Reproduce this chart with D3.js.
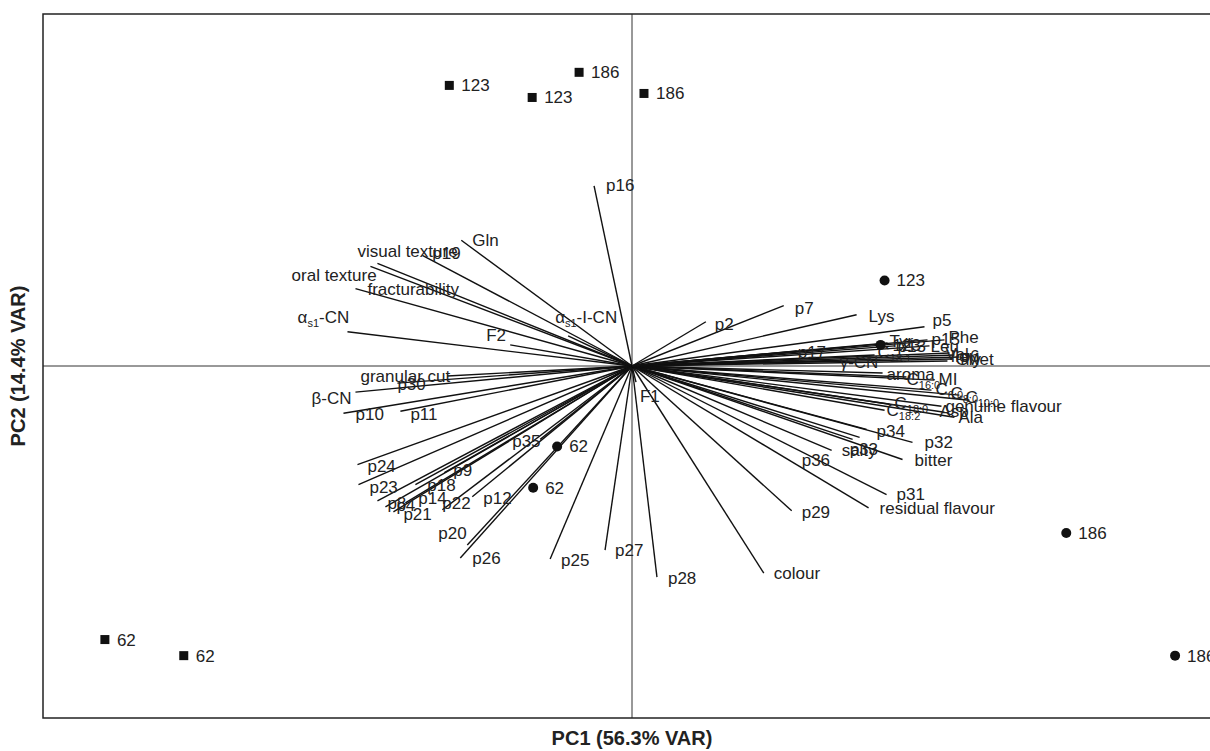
<!DOCTYPE html>
<html>
<head>
<meta charset="utf-8">
<script src="https://cdn.jsdelivr.net/npm/d3@7"></script>
<style>
  body { margin: 0; background: #fff; }
  text { font-family: "Liberation Sans", Arial, sans-serif; }
</style>
</head>
<body>
<div id="plot"></div>
<script>
// variable loadings (arrow tips) and their label anchors, PC1 / PC2 units
// {..} marks a subscript
let varNames = ["p16","Gln","p19","visual texture","oral texture","fracturability","α{s1}-CN","α{s1}-I-CN","F2",
  "granular cut","p30","β-CN","p10","p11","p24","p23","p8","p4","p21","p14","p18","p9","p22","p12","p35",
  "p20","p26","p25","p27","F1","p28","colour","p29","residual flavour","p31","p36","salty","p33","bitter",
  "p32","p34","Ala","Asp","genuine flavour","C{18:2}","C{18:0}","C{10:0}","C{8:0}","C{6:0}","MI","C{16:0}",
  "aroma","γ-CN","C{18:1}","p17","Ile","Val","p6","Met","Gly","Leu","Phe","p15","p13","Tyr","p5","Lys","p7","p2"];
let varX = [-0.38,-1.71,-2.10,-2.55,-2.62,-2.77,-2.85,-0.64,-1.22,
  -1.85,-2.35,-2.77,-2.89,-2.32,-2.75,-2.74,-2.55,-2.47,-2.39,-2.27,-2.17,-1.88,-1.90,-1.60,-0.92,
  -1.65,-1.72,-0.82,-0.27,0.04,0.25,1.32,1.60,2.37,2.55,2.00,2.21,2.28,2.71,
  2.81,2.35,3.23,3.13,3.10,2.53,2.58,3.38,3.28,3.00,3.03,2.75,
  2.51,2.03,2.43,1.65,3.23,3.18,3.28,3.20,3.16,2.98,3.13,2.96,2.63,2.56,2.93,2.25,1.52,0.74];
let varY = [1.79,1.25,1.10,1.02,0.99,0.77,0.34,0.30,0.21,
  -0.10,-0.17,-0.26,-0.47,-0.45,-0.98,-1.18,-1.34,-1.40,-1.45,-1.36,-1.18,-1.06,-1.43,-1.30,-0.73,
  -1.78,-1.91,-1.92,-1.83,-0.16,-2.10,-2.06,-1.44,-1.41,-1.28,-0.84,-0.73,-0.71,-0.93,
  -0.76,-0.63,-0.51,-0.46,-0.40,-0.44,-0.38,-0.34,-0.29,-0.24,-0.14,-0.11,
  -0.07,0.05,0.11,0.15,0.11,0.13,0.09,0.07,0.05,0.20,0.26,0.26,0.20,0.23,0.39,0.51,0.60,0.44];
let labX = [-0.26,-1.60,-2.00,-2.75,-3.41,-2.65,-3.35,-0.77,-1.46,
  -2.72,-2.35,-3.21,-2.77,-2.22,-2.65,-2.63,-2.45,-2.36,-2.29,-2.14,-2.05,-1.79,-1.90,-1.49,-1.20,
  -1.94,-1.60,-0.71,-0.17,0.08,0.36,1.42,1.70,2.48,2.65,1.70,2.10,2.18,2.83,
  2.93,2.45,3.27,3.08,3.14,2.55,2.63,3.34,3.19,3.04,3.07,2.75,
  2.55,2.08,2.46,1.66,3.19,3.14,3.29,3.34,3.24,2.99,3.17,3.00,2.66,2.58,3.01,2.37,1.63,0.83];
let labY = [1.80,1.25,1.12,1.14,0.90,0.77,0.49,0.49,0.31,
  -0.10,-0.18,-0.32,-0.48,-0.48,-0.99,-1.20,-1.36,-1.38,-1.47,-1.31,-1.18,-1.03,-1.36,-1.31,-0.75,
  -1.66,-1.91,-1.93,-1.83,-0.30,-2.11,-2.06,-1.45,-1.41,-1.27,-0.94,-0.84,-0.83,-0.94,
  -0.76,-0.65,-0.51,-0.45,-0.40,-0.44,-0.37,-0.31,-0.27,-0.23,-0.13,-0.13,
  -0.08,0.04,0.14,0.14,0.10,0.12,0.10,0.07,0.07,0.20,0.29,0.27,0.20,0.25,0.46,0.50,0.58,0.42];

// sample scores
let obsLabels = ["123","123","186","186","62","62","123","123","62","62","186","186"];
let obsShape  = ["square","square","square","square","square","square","circle","circle","circle","circle","circle","circle"];
let obsX = [-1.83,-1.00,-0.53,0.12,-5.28,-4.49, 2.53,2.49,-0.75,-0.99,4.35,5.44];
let obsY = [ 2.79, 2.67, 2.92,2.71,-2.72,-2.88, 0.85,0.21,-0.80,-1.21,-1.66,-2.88];

let xTitle = "PC1 (56.3% VAR)";
let yTitle = "PC2 (14.4% VAR)";

let svgWidth = 1210, svgHeight = 751;
let margin = { top: 14, left: 43, bottom: 33 };

let x = d3.scaleLinear().domain([-5.9, 5.9]).range([margin.left, 1221]);
let y = d3.scaleLinear().domain([-3.5, 3.5]).range([svgHeight - margin.bottom, margin.top]);

let svg = d3.select('#plot').append('svg')
  .attr('width', svgWidth).attr('height', svgHeight);

// zero lines
svg.append('line')
  .attr('x1', x(0)).attr('x2', x(0)).attr('y1', y(3.5)).attr('y2', y(-3.5))
  .attr('stroke', '#333').attr('stroke-width', 1);
svg.append('line')
  .attr('x1', x(-5.9)).attr('x2', x(5.9)).attr('y1', y(0)).attr('y2', y(0))
  .attr('stroke', '#333').attr('stroke-width', 1);

// loadings
let vars = varNames.map((n, i) => ({ name: n, x: varX[i], y: varY[i], lx: labX[i], ly: labY[i] }));

svg.append('g').selectAll('line').data(vars).enter()
  .append('line')
  .attr('x1', x(0)).attr('y1', y(0))
  .attr('x2', d => x(d.x)).attr('y2', d => y(d.y))
  .attr('stroke', '#111').attr('stroke-width', 1.4);

function addLabel(sel, name) {
  // split "α{s1}-CN" into normal + subscript pieces
  let parts = name.split(/(\{[^}]*\})/).filter(p => p.length);
  let sub = false;
  parts.forEach(p => {
    if (p[0] === '{') {
      sel.append('tspan').attr('font-size', 11).attr('dy', 4).text(p.slice(1, -1));
      sub = true;
    } else {
      let t = sel.append('tspan').text(p);
      if (sub) { t.attr('dy', -4); sub = false; }
    }
  });
}

svg.append('g').selectAll('text').data(vars).enter()
  .append('text')
  .attr('x', d => x(d.lx)).attr('y', d => y(d.ly))
  .attr('dy', '0.35em')
  .attr('font-size', 17).attr('fill', '#222')
  .each(function(d) { addLabel(d3.select(this), d.name); });

// scores
let obs = obsLabels.map((l, i) => ({ label: l, shape: obsShape[i], x: obsX[i], y: obsY[i] }));

let pts = svg.append('g');
pts.selectAll('rect').data(obs.filter(d => d.shape === 'square')).enter()
  .append('rect')
  .attr('x', d => x(d.x) - 4.5).attr('y', d => y(d.y) - 4.5)
  .attr('width', 9).attr('height', 9).attr('fill', '#111');
pts.selectAll('circle').data(obs.filter(d => d.shape === 'circle')).enter()
  .append('circle')
  .attr('cx', d => x(d.x)).attr('cy', d => y(d.y)).attr('r', 5).attr('fill', '#111');
pts.selectAll('text').data(obs).enter()
  .append('text')
  .attr('x', d => x(d.x) + 12).attr('y', d => y(d.y))
  .attr('dy', '0.35em').attr('font-size', 17).attr('fill', '#222')
  .text(d => d.label);

// frame
svg.append('rect')
  .attr('x', x(-5.9)).attr('y', y(3.5))
  .attr('width', x(5.9) - x(-5.9)).attr('height', y(-3.5) - y(3.5))
  .attr('fill', 'none').attr('stroke', '#222').attr('stroke-width', 1.5);

// axis titles
svg.append('text')
  .attr('x', x(0)).attr('y', 745)
  .attr('text-anchor', 'middle').attr('font-size', 20).attr('font-weight', 'bold')
  .attr('fill', '#222').text(xTitle);
svg.append('text')
  .attr('transform', `translate(25,${y(0)}) rotate(-90)`)
  .attr('text-anchor', 'middle').attr('font-size', 20).attr('font-weight', 'bold')
  .attr('fill', '#222').text(yTitle);
</script>
</body>
</html>
